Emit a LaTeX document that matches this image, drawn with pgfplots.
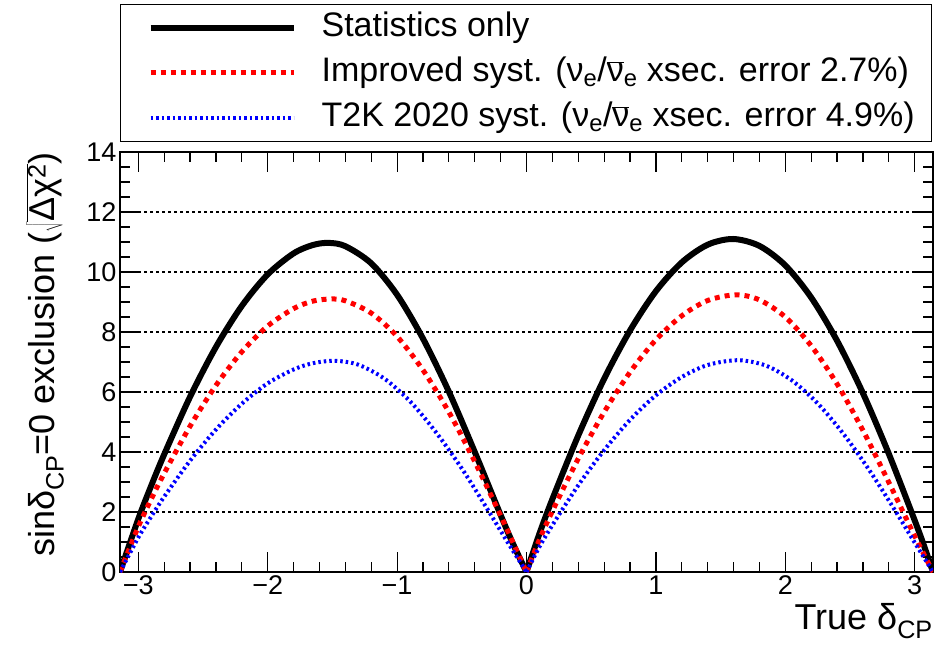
\documentclass[border=0pt]{standalone}
\usepackage{pgfplots}
\pgfplotsset{compat=1.18}
\usepackage{fontspec}
\setmainfont{Liberation Sans}
\newcommand{\nubar}{\ensuremath{\overline{\hbox{ν}}}}
\begin{document}
\begin{tikzpicture}
\path[use as bounding box] (-120pt,-78pt) rectangle (832pt,572pt);
\begin{axis}[
  at={(0pt,0pt)}, anchor=south west,
  scale only axis, width=813pt, height=420pt,
  xmin=-3.14159, xmax=3.14159, ymin=0, ymax=14,
  axis line style={line width=1.5pt},
  tick align=inside, tick pos=both,
  xticklabel pos=lower, yticklabel pos=left,
  xtick={-3,-2,-1,0,1,2,3}, xticklabels={−3,−2,−1,0,1,2,3},
  ytick={0,2,4,6,8,10,12,14}, yticklabels={0,2,4,6,8,10,12,14},
  minor x tick num=4, minor y tick num=3,
  major tick length=20pt, minor tick length=10pt,
  every tick/.style={black, line width=1.2pt},
  ymajorgrids, major grid style={black, line width=1.2pt, dash pattern=on 3pt off 3pt},
  tick label style={font=\fontsize{27}{30}\selectfont},
  xlabel={True δ\textsubscript{CP}},
  ylabel={sinδ\textsubscript{CP}=0 exclusion (\ensuremath{\sqrt{\hbox{Δχ\textsuperscript{2}}}})},
  label style={font=\fontsize{36}{40}\selectfont},
  xlabel style={at={(axis description cs:1,0)}, anchor=north east, inner sep=0pt, yshift=-31pt},
  ylabel style={at={(axis description cs:-0.0923,1)}, anchor=east, inner sep=0pt},
  unbounded coords=jump,
  legend image code/.code={\draw[#1] (0pt,0pt) -- (143pt,0pt);},
  legend style={at={(rel axis cs:0,1)}, anchor=south west, yshift=10pt,
    draw=black, line width=1.2pt, inner xsep=27pt, inner ysep=1pt,
    column sep=25pt, row sep=0pt,
    nodes={inner sep=0pt, text height=31.5pt, text depth=13.5pt},
    font=\fontsize{34}{36}\selectfont},
  legend cell align=left,
]
\addplot[black, line width=6pt, smooth] coordinates {
(-3.1416,0) (-3.0,1.77) (-2.9,2.88) (-2.8,3.92) (-2.6,5.84) (-2.4,7.50) (-2.2,8.87) (-2.0,9.92)
(-1.8,10.62) (-1.65,10.90) (-1.53,10.97) (-1.4,10.86) (-1.2,10.29) (-1.0,9.24) (-0.8,7.78)
(-0.6,6.01) (-0.4,4.00) (-0.2,1.90) (-0.1,0.90) (0,0)
(0,nan)
(0,0) (0.1,1.28) (0.2,2.43) (0.4,4.55) (0.6,6.44) (0.8,8.05) (1.0,9.36) (1.2,10.32) (1.4,10.91)
(1.597,11.1) (1.8,10.87) (2.0,10.22) (2.2,9.15) (2.4,7.71) (2.6,5.96) (2.8,3.94) (3.0,1.72)
(3.07,0.90) (3.1416,0)
};
\addlegendentry{\makebox[583pt][l]{Statistics only}}
\addplot[red, line width=5pt, dash pattern=on 5pt off 5pt, smooth] coordinates {
(-3.1416,0) (-3.0,1.51) (-2.9,2.43) (-2.8,3.29) (-2.6,4.86) (-2.4,6.22) (-2.2,7.34) (-2.0,8.20)
(-1.8,8.78) (-1.65,9.03) (-1.51,9.1) (-1.4,9.04) (-1.2,8.63) (-1.0,7.85) (-0.8,6.73)
(-0.6,5.33) (-0.4,3.68) (-0.2,1.88) (-0.1,0.94) (0,0)
(0,nan)
(0,0) (0.1,1.08) (0.2,2.03) (0.4,3.78) (0.6,5.33) (0.8,6.66) (1.0,7.74) (1.2,8.54) (1.4,9.05)
(1.62,9.24) (1.8,9.07) (2.0,8.50) (2.2,7.54) (2.4,6.27) (2.6,4.72) (2.8,2.99) (3.0,1.20)
(3.1416,0)
};
\addlegendentry{\makebox[583pt][l]{Improved syst. (ν\textsubscript{e}/\nubar\textsubscript{e} xsec. error 2.7\%)}}
\addplot[blue, line width=4pt, dash pattern=on 2.5pt off 3pt, smooth] coordinates {
(-3.1416,0) (-3.0,1.15) (-2.9,1.85) (-2.8,2.51) (-2.6,3.71) (-2.4,4.75) (-2.2,5.61) (-2.0,6.29)
(-1.8,6.75) (-1.65,6.96) (-1.48,7.04) (-1.3,6.91) (-1.1,6.45) (-0.9,5.69) (-0.7,4.66)
(-0.5,3.45) (-0.3,2.08) (-0.15,1.02) (0,0)
(0,nan)
(0,0) (0.1,0.84) (0.2,1.56) (0.4,2.89) (0.6,4.06) (0.8,5.07) (1.0,5.89) (1.2,6.50) (1.4,6.90)
(1.636,7.06) (1.85,6.88) (2.05,6.39) (2.25,5.62) (2.45,4.60) (2.65,3.39) (2.85,2.04) (3.0,0.98)
(3.1416,0)
};
\addlegendentry{\makebox[583pt][l]{T2K 2020 syst. (ν\textsubscript{e}/\nubar\textsubscript{e} xsec. error 4.9\%)}}
\end{axis}
\end{tikzpicture}
\end{document}
